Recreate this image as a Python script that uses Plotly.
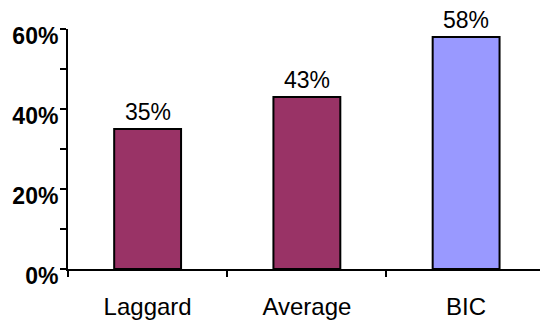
import plotly.graph_objects as go

# Share of companies, by performance group
categories = ["Laggard", "Average", "BIC"]
values = [35, 43, 58]
bar_colors = ["#993366", "#993366", "#9999FF"]
tick_vals = [0, 20, 40, 60]
tick_text = ["0%", "20%", "40%", "60%"]

FONT = "Arial, Liberation Sans, sans-serif"

fig = go.Figure(
    go.Bar(
        x=categories,
        y=values,
        width=0.42,
        marker=dict(color=bar_colors, line=dict(color="black", width=2)),
        hoverinfo="skip",
    )
)

# value labels above each bar
for cat, val in zip(categories, values):
    fig.add_annotation(
        x=cat, y=val, text=f"{val}%", showarrow=False,
        yanchor="bottom", yshift=2,
        font=dict(family=FONT, size=23, color="black"),
    )

fig.update_layout(
    width=540, height=320,
    margin=dict(l=68, r=0, t=29, b=48),
    paper_bgcolor="white", plot_bgcolor="white",
    showlegend=False,
)

fig.update_xaxes(
    range=[-0.5, 2.464],
    showline=True, linecolor="black", linewidth=1.5,
    ticks="outside", tickson="boundaries", ticklen=6, tickwidth=2, tickcolor="black",
    tickfont=dict(family=FONT, size=24, color="black"),
    ticklabelstandoff=15,
    showgrid=False, zeroline=False,
)

fig.update_yaxes(
    range=[0, 60],
    tickvals=tick_vals, ticktext=tick_text,
    showline=True, linecolor="black", linewidth=2,
    ticks="outside", ticklen=6, tickwidth=2, tickcolor="black",
    minor=dict(ticks="outside", dtick=10, ticklen=6, tickwidth=2, tickcolor="black", showgrid=False),
    tickfont=dict(family=FONT, size=23, color="black", weight="bold"),
    ticklabelshift=7, ticklabelstandoff=-3,
    showgrid=False, zeroline=False,
)

fig.write_html("out.html")
